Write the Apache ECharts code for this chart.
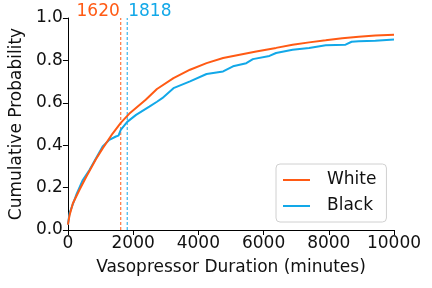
<!DOCTYPE html>
<html>
<head>
<meta charset="utf-8">
<script src="https://cdn.jsdelivr.net/npm/echarts@6/dist/echarts.min.js"></script>
<style>html,body{margin:0;padding:0;background:#fff}#c{width:432px;height:288px}</style>
</head>
<body>
<div id="c"></div>
<script>
var whiteX = [0, 50, 150, 355, 558, 862, 1065, 1370, 1620, 1877, 2385, 2730, 3237, 3744, 4252, 4759, 5266, 5774, 6383, 6890, 7397, 7905, 8412, 8919, 9427, 10000];
var whiteY = [0.025, 0.07, 0.125, 0.19, 0.25, 0.335, 0.385, 0.455, 0.505, 0.548, 0.614, 0.665, 0.716, 0.756, 0.787, 0.811, 0.827, 0.842, 0.859, 0.874, 0.885, 0.895, 0.905, 0.911, 0.917, 0.921];
var blackX = [0, 50, 254, 457, 660, 862, 1065, 1268, 1471, 1550, 1620, 1818, 2090, 2496, 2730, 2892, 3237, 3744, 4252, 4759, 5063, 5470, 5672, 6180, 6383, 6890, 7397, 7905, 8514, 8700, 8919, 9427, 10000];
var blackY = [0.025, 0.08, 0.165, 0.236, 0.283, 0.339, 0.394, 0.425, 0.441, 0.445, 0.472, 0.51, 0.543, 0.582, 0.605, 0.622, 0.669, 0.701, 0.736, 0.748, 0.772, 0.787, 0.806, 0.821, 0.835, 0.85, 0.859, 0.871, 0.874, 0.888, 0.89, 0.893, 0.899];
var medians = [1620, 1818];
var names = ['White', 'Black'];
var colors = ['#FF5A14', '#12A8E8'];

function zip(xs, ys) { return xs.map(function (x, i) { return [x, ys[i]]; }); }
var font = 'DejaVu Sans';
var fs = 17;
var chart = echarts.init(document.getElementById('c'), null, {renderer: 'canvas'});
function mk(i, data) {
  return {
    name: names[i], type: 'line', data: data, showSymbol: false, symbol: 'none',
    color: colors[i],
    lineStyle: {color: colors[i], width: 2}, itemStyle: {color: colors[i]},
    silent: true, z: 3 - i
  };
}
function medLine(i) {
  return {
    name: 'median' + i, type: 'line', data: [[medians[i], 0], [medians[i], 1]],
    showSymbol: false, symbol: 'none', silent: true, z: 1, color: colors[i],
    lineStyle: {color: colors[i], width: 1, type: [3, 2]}
  };
}
chart.setOption({
  animation: false,
  grid: {left: 67, right: 38, top: 18, bottom: 58},
  textStyle: {fontFamily: font},
  legend: {
    orient: 'vertical', left: 276, top: 164,
    data: names, icon: 'rect',
    itemWidth: 27, itemHeight: 2, itemGap: 6,
    padding: [6, 10, 6, 7],
    borderColor: '#d0d0d0', borderWidth: 1, borderRadius: 4,
    textStyle: {fontSize: fs, fontFamily: font, color: '#111', lineHeight: 20, padding: [0, 0, 0, 12]}
  },
  xAxis: {
    type: 'value', min: 0, max: 10000, interval: 2000,
    name: 'Vasopressor Duration (minutes)', nameLocation: 'middle', nameGap: 29,
    nameTextStyle: {fontSize: fs, color: '#111', fontFamily: font},
    axisLine: {lineStyle: {color: '#000', width: 1}},
    axisTick: {show: true, length: 5, lineStyle: {color: '#000'}},
    axisLabel: {fontSize: fs, color: '#111', margin: 5, fontFamily: font,
      formatter: function (v) { return String(v); }},
    splitLine: {show: false}
  },
  yAxis: {
    type: 'value', min: 0, max: 1, interval: 0.2,
    name: 'Cumulative Probability', nameLocation: 'middle', nameGap: 36,
    nameTextStyle: {fontSize: fs, color: '#111', fontFamily: font},
    axisLine: {show: true, lineStyle: {color: '#000', width: 1}},
    axisTick: {show: true, length: 5, lineStyle: {color: '#000'}},
    axisLabel: {fontSize: fs, color: '#111', margin: 5, fontFamily: font,
      formatter: function (v) { return v.toFixed(1); }},
    splitLine: {show: false}
  },
  series: [medLine(0), medLine(1), mk(0, zip(whiteX, whiteY)), mk(1, zip(blackX, blackY))]
});
var labels = medians.map(function (m, i) {
  var p = chart.convertToPixel({gridIndex: 0}, [m, 1]);
  return {
    type: 'text', x: p[0] + (i === 0 ? -1 : 1), y: p[1] + 2, silent: true,
    style: {text: String(m), fill: colors[i], font: fs + 'px "' + font + '"',
      textAlign: i === 0 ? 'right' : 'left', textVerticalAlign: 'bottom'}
  };
});
chart.setOption({graphic: labels});
</script>
</body>
</html>
